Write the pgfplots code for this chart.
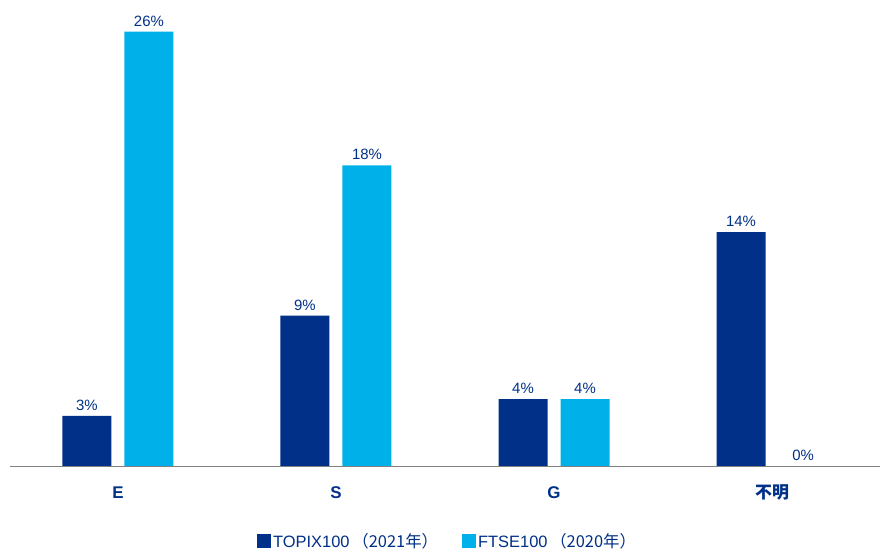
\documentclass[border=0pt]{standalone}
\usepackage{pgfplots}
\pgfplotsset{compat=1.18}
\usepackage{fontspec}
\setmainfont{Liberation Sans}
\newfontfamily\cjk{Noto Sans CJK JP}
\definecolor{navy}{RGB}{0,48,135}
\definecolor{sky}{RGB}{0,176,232}
\definecolor{txt}{RGB}{0,48,135}
\begin{document}
\begin{tikzpicture}
\begin{axis}[
  at={(10bp,88bp)}, anchor=south west,
  scale only axis, width=870bp, height=466bp,
  xmin=-0.495, xmax=3.495, ymin=0, ymax=27.9,
  ybar=13bp, bar width=49bp,
  axis x line*=bottom, axis y line=none,
  x axis line style={draw=gray, line width=1pt, -},
  xtick={0,1,2,3}, xticklabels={E,S,G,{\cjk\bfseries 不明}},
  major tick length=0pt,
  /pgf/number format/assume math mode=true,
  xticklabel style={font=\fontsize{17}{19}\selectfont\bfseries, text=txt, anchor=base, yshift=-32bp},
  nodes near coords={\pgfmathprintnumber\pgfplotspointmeta\%},
  nodes near coords style={font=\fontsize{15}{17}\selectfont, text=txt},
  every node near coord/.append style={yshift=2bp},
  legend style={at={(0.503,-0.161)}, anchor=center, draw=none, legend columns=2,
    font=\fontsize{16.5}{18}\selectfont, text=txt,
    /tikz/every even column/.append style={column sep=22bp}},
  legend image code/.code={\fill[#1] (0bp,-7bp) rectangle (14bp,7bp);},
]
\addplot[fill=navy, draw=none] coordinates {(0,3) (1,9) (2,4) (3,14)};
\addplot[fill=sky, draw=none] coordinates {(0,26) (1,18) (2,4) (3,0)};
\legend{TOPIX100\,{\cjk （2021年）}, FTSE100\,{\cjk （2020年）}}
\end{axis}
\pgfresetboundingbox
\path (0,0) rectangle (880bp,554bp);
\end{tikzpicture}
\end{document}
